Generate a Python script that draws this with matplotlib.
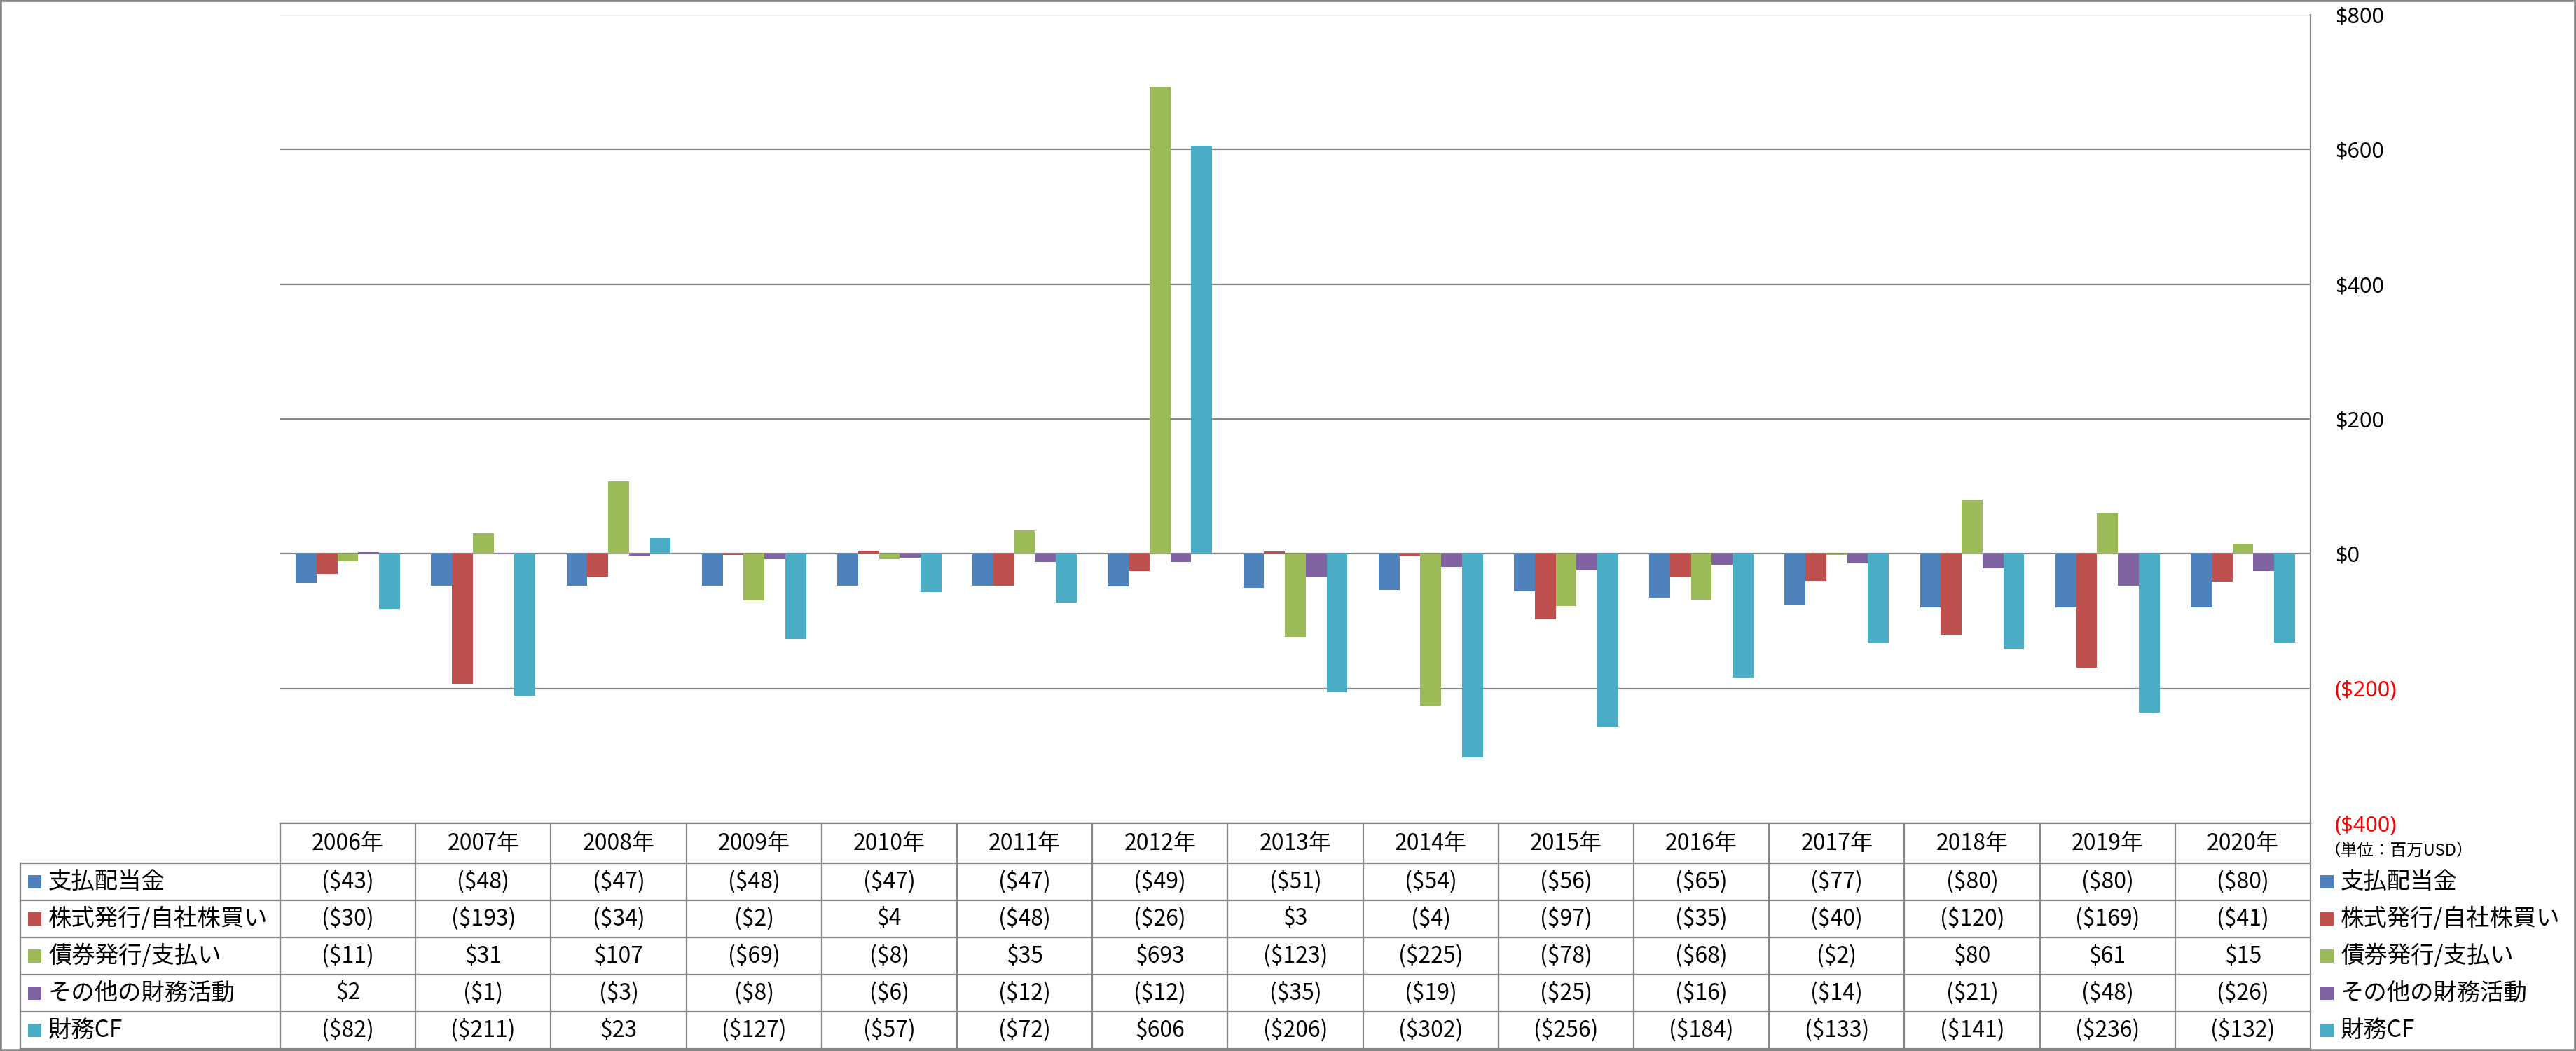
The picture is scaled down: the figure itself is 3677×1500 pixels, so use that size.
import matplotlib
matplotlib.use('Agg')
import matplotlib.pyplot as plt
import numpy as np
from matplotlib.patches import Rectangle
from matplotlib.ticker import FixedLocator, FuncFormatter

plt.rcParams['font.family'] = ['Noto Sans CJK JP', 'DejaVu Sans']

# ---------------- data ----------------
years = ['2006年', '2007年', '2008年', '2009年', '2010年', '2011年', '2012年', '2013年',
         '2014年', '2015年', '2016年', '2017年', '2018年', '2019年', '2020年']
series_names = ['支払配当金', '株式発行/自社株買い', '債券発行/支払い', 'その他の財務活動', '財務CF']
dividends = [-43, -48, -47, -48, -47, -47, -49, -51, -54, -56, -65, -77, -80, -80, -80]
equity = [-30, -193, -34, -2, 4, -48, -26, 3, -4, -97, -35, -40, -120, -169, -41]
debt = [-11, 31, 107, -69, -8, 35, 693, -123, -225, -78, -68, -2, 80, 61, 15]
other = [2, -1, -3, -8, -6, -12, -12, -35, -19, -25, -16, -14, -21, -48, -26]
fin_cf = [-82, -211, 23, -127, -57, -72, 606, -206, -302, -256, -184, -133, -141, -236, -132]
yticks = [-400, -200, 0, 200, 400, 600, 800]
unit_label = '（単位：百万USD）'
series = [dividends, equity, debt, other, fin_cf]
colors = ['#4F81BD', '#C0504D', '#9BBB59', '#8064A2', '#4BACC6']

# ---------------- layout (pixels) ----------------
W, H = 3677, 1500
L, R, T, B = 400, 3298, 21, 1175
row_edges = [1175, 1232, 1285, 1338, 1391, 1444, 1497]
leg_left = 29
grid_c = '#868686'

fig = plt.figure(figsize=(W / 100, H / 100), dpi=100)
ax = fig.add_axes([L / W, 1 - B / H, (R - L) / W, (B - T) / H])

n = len(years)
k = len(series)
x = np.arange(n)
bw = 1.0 / (k + 1.5)
for j, (vals, c) in enumerate(zip(series, colors)):
    ax.bar(x + (j - (k - 1) / 2) * bw, vals, bw, color=c, zorder=3, linewidth=0)

ax.set_xlim(-0.5, n - 0.5)
ax.set_ylim(yticks[0], yticks[-1])
ax.set_xticks([])
ax.yaxis.set_major_locator(FixedLocator(yticks))


def money(v, pos=None):
    v = int(round(v))
    return f'(${-v})' if v < 0 else f'${v}'


ax.yaxis.set_major_formatter(FuncFormatter(money))
ax.yaxis.tick_right()
ax.tick_params(axis='y', length=0, pad=25, labelsize=22)
for lab, v in zip(ax.get_yticklabels(), yticks):
    lab.set_fontfamily(['Noto Sans', 'DejaVu Sans'])
    lab.set_color('#FF0000' if v < 0 else 'black')
ax.yaxis.grid(True, color=grid_c, linewidth=1.6, zorder=0)
ax.set_axisbelow(True)
for s in ['left', 'top', 'bottom']:
    ax.spines[s].set_visible(False)
ax.spines['right'].set_color(grid_c)
ax.spines['right'].set_linewidth(1.6)

# ---------------- data table overlay ----------------
ov = fig.add_axes([0, 0, 1, 1])
ov.set_xlim(0, W)
ov.set_ylim(H, 0)
ov.axis('off')

cw = (R - L) / n
lw_t = 1.6
ov.plot([L, R], [row_edges[0]] * 2, color=grid_c, lw=lw_t)
for yv in row_edges[1:]:
    ov.plot([leg_left, R], [yv] * 2, color=grid_c, lw=lw_t)
for i in range(n + 1):
    ov.plot([L + i * cw] * 2, [row_edges[0], row_edges[-1]], color=grid_c, lw=lw_t)
ov.plot([leg_left] * 2, [row_edges[1], row_edges[-1]], color=grid_c, lw=lw_t)

fs = 23
fs_leg = 24
hy = (row_edges[0] + row_edges[1]) / 2
for i, yr in enumerate(years):
    ov.text(L + (i + 0.5) * cw, hy, yr, ha='center', va='center', fontsize=fs)

sq = 19
for j, (name, vals, c) in enumerate(zip(series_names, series, colors)):
    cy = (row_edges[j + 1] + row_edges[j + 2]) / 2
    for i, v in enumerate(vals):
        ov.text(L + (i + 0.5) * cw, cy, money(v), ha='center', va='center', fontsize=fs)
    ov.add_patch(Rectangle((40, cy - sq / 2), sq, sq, color=c, lw=0))
    ov.text(69, cy, name, ha='left', va='center', fontsize=fs_leg)
    ov.add_patch(Rectangle((3312, cy - sq / 2), sq, sq, color=c, lw=0))
    ov.text(3341, cy, name, ha='left', va='center', fontsize=fs_leg)

ov.text(3318, 1214, unit_label, ha='left', va='center', fontsize=17)

fig.patches.append(Rectangle((0, 0), 1, 1, transform=fig.transFigure, fill=False,
                             edgecolor=grid_c, linewidth=4))

fig.savefig('out.png', dpi=100)
